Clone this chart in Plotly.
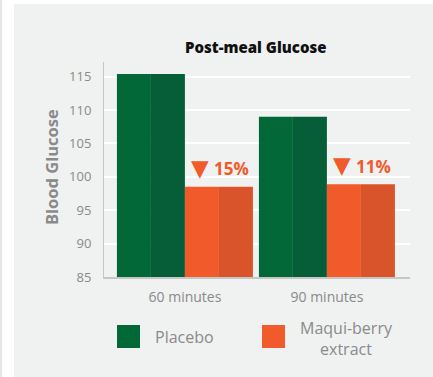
import plotly.graph_objects as go

# Data
categories = ["60 minutes", "90 minutes"]
placebo = [115.4, 109.0]
maqui = [98.5, 98.9]
reductions = ["15%", "11%"]
series_names = ["Placebo", "Maqui-berry<br>extract"]
y_ticks = [85, 90, 95, 100, 105, 110, 115]

# Styling
W, H = 433, 377
L, R, T, B = 104, 23, 62, 100
PW, PH = W - L - R, H - T - B
PANEL = "#f0f1f1"
GREEN_A, GREEN_B = "#036838", "#055e37"
ORANGE_A, ORANGE_B = "#f15a2a", "#d9542a"
GREY_TXT = "#8a8a8a"
FONT = "Open Sans"

HALF = 0.2394  # half-bar width in category units
GAP = 0.479


def px_x(p):
    return (p - L) / PW


def px_y(p):
    return (H - B - p) / PH


fig = go.Figure()

# each bar is drawn as two shaded halves
for vals, ca, cb, start in [(placebo, GREEN_A, GREEN_B, -GAP), (maqui, ORANGE_A, ORANGE_B, 0.0)]:
    fig.add_trace(go.Bar(x=categories, y=vals, width=HALF, offset=start,
                         marker=dict(color=ca, line=dict(width=0)), showlegend=False))
    fig.add_trace(go.Bar(x=categories, y=vals, width=HALF, offset=start + HALF,
                         marker=dict(color=cb, line=dict(width=0)), showlegend=False))

# reduction labels above the extract bars: a down triangle plus the percentage
for i, (v, r) in enumerate(zip(maqui, reductions)):
    fig.add_annotation(x=i + HALF, y=v, xref="x", yref="y", xanchor="center", yanchor="middle",
                       yshift=19, xshift=-19, text="▼", showarrow=False,
                       font=dict(family="DejaVu Sans", size=23, color=ORANGE_A))
    fig.add_annotation(x=i + HALF, y=v, xref="x", yref="y", xanchor="left", yanchor="middle",
                       yshift=18, xshift=-7, text=r, showarrow=False,
                       font=dict(family=FONT, size=17, color=ORANGE_A, weight="bold"))

shapes = [
    # panel background and left rule
    dict(type="rect", xref="paper", yref="paper", x0=px_x(14), x1=px_x(W + 2),
         y0=px_y(H + 2), y1=px_y(4), fillcolor=PANEL, line=dict(width=0), layer="below"),
    dict(type="rect", xref="paper", yref="paper", x0=px_x(0), x1=px_x(2),
         y0=px_y(H + 2), y1=px_y(-2), fillcolor="#e6e6e6", line=dict(width=0), layer="below"),
    # legend swatches
    dict(type="rect", xref="paper", yref="paper", x0=px_x(117), x1=px_x(140),
         y0=px_y(348), y1=px_y(325), fillcolor=GREEN_A, line=dict(width=0)),
    dict(type="rect", xref="paper", yref="paper", x0=px_x(262), x1=px_x(285),
         y0=px_y(348), y1=px_y(325), fillcolor=ORANGE_A, line=dict(width=0)),
]

annotations = [
    dict(xref="paper", yref="paper", x=px_x(256), y=px_y(47), xanchor="center", yanchor="middle",
         text="Post-meal Glucose", showarrow=False,
         font=dict(family=FONT, size=15, color="#111111", weight=800)),
    dict(xref="paper", yref="paper", x=px_x(51), y=px_y(167), xanchor="center", yanchor="middle",
         text="Blood Glucose", textangle=-90, showarrow=False,
         font=dict(family=FONT, size=16.5, color=GREY_TXT, weight="bold")),
    dict(xref="paper", yref="paper", x=px_x(153), y=px_y(337), xanchor="left", yanchor="middle",
         text=series_names[0], showarrow=False,
         font=dict(family=FONT, size=16, color=GREY_TXT)),
    dict(xref="paper", yref="paper", x=px_x(346), y=px_y(338), xanchor="center", yanchor="middle",
         text=series_names[1], showarrow=False, align="center",
         font=dict(family=FONT, size=16, color=GREY_TXT)),
]
for a in annotations:
    fig.add_annotation(**a)

fig.update_layout(
    width=W, height=H,
    margin=dict(l=L, r=R, t=T, b=B, pad=0),
    paper_bgcolor="white", plot_bgcolor=PANEL,
    barmode="overlay", shapes=shapes,
    font=dict(family=FONT, color=GREY_TXT),
)
fig.update_xaxes(type="category", range=[-0.570, 1.585], showgrid=False,
                 showline=True, linecolor="#c6c6c6", linewidth=1.5,
                 ticks="outside", ticklen=6, tickcolor="rgba(0,0,0,0)",
                 tickfont=dict(family=FONT, size=14, color=GREY_TXT), fixedrange=True)
fig.update_yaxes(range=[85, 117.2], tickvals=y_ticks, showgrid=True,
                 gridcolor="white", gridwidth=1.5, zeroline=False,
                 showline=True, linecolor="#c6c6c6", linewidth=1,
                 ticks="outside", ticklen=9, tickcolor="rgba(0,0,0,0)",
                 tickfont=dict(family=FONT, size=13, color=GREY_TXT), fixedrange=True)

fig.write_html("out.html")
